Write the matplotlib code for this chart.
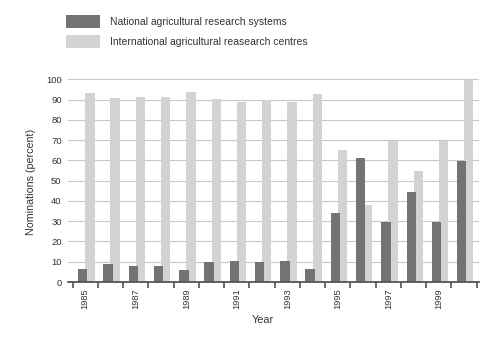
import matplotlib
matplotlib.use("Agg")
import matplotlib.pyplot as plt
import numpy as np
from matplotlib.patches import Patch

years = list(range(1985, 2001))
national = [6.6, 8.9, 7.8, 7.8, 6.1, 10.1, 10.4, 9.9, 10.4, 6.6, 33.8, 61.4, 29.7, 44.6, 29.7, 59.9]
international = [93.4, 90.9, 91.4, 91.4, 93.9, 90.1, 88.6, 89.6, 88.6, 92.7, 65.3, 37.8, 69.6, 54.6, 69.6, 99.7]
series_names = ["National agricultural research systems",
                "International agricultural reasearch centres"]
tick_years = [y if y % 2 == 1 else None for y in years]

dark = "#737373"
light = "#d3d3d3"
txt = "#333333"

plt.rcParams['font.family'] = ['Liberation Sans', 'DejaVu Sans']

fig = plt.figure(figsize=(5.0, 3.39), dpi=100)
ax = fig.add_axes([68.3/500, 57/339, (479-68.3)/500, (282-79.3)/339])

idx = np.arange(len(years))
w = 0.37
ax.bar(idx + 0.50, international, width=w, align='edge', color=light, zorder=2, linewidth=0)
ax.bar(idx + 0.22, national, width=w, align='edge', color=dark, zorder=3, linewidth=0)

ax.set_xlim(-0.17, len(years) + 0.09)
ax.set_ylim(0, 100)
ax.set_yticks(np.arange(0, 101, 10))
ax.yaxis.grid(True, color="#c8c8c8", linewidth=0.8, zorder=0)
ax.set_axisbelow(True)

for s in ['top', 'right', 'left']:
    ax.spines[s].set_visible(False)
ax.spines['bottom'].set_color("#555555")
ax.spines['bottom'].set_linewidth(1.3)
ax.spines['bottom'].set_zorder(4)

ax.set_xticks(np.arange(0, len(years) + 1))
ax.set_xticklabels([])
ax.tick_params(axis='x', which='major', length=4, width=1.1, color="#444444", direction='out')
ax.set_xticks(idx + 0.5, minor=True)
ax.set_xticklabels([str(y) if y else "" for y in tick_years], minor=True, rotation=90,
                   fontsize=6.7, color=txt)
ax.tick_params(axis='x', which='minor', length=0, pad=4.3)
ax.tick_params(axis='y', length=0, pad=4.8, labelsize=6.8, labelcolor=txt)

ax.set_xlabel("Year", fontsize=7.8, color=txt)
ax.xaxis.set_label_coords((263-68.3)/(479-68.3), -(320-282)/(282-79.3))
ax.xaxis.label.set_va('center')
ax.set_ylabel("Nominations (percent)", fontsize=7.7, color=txt)
ax.yaxis.set_label_coords(-(68.3-31)/(479-68.3), 0.495)
ax.yaxis.label.set_va('center')

fs = 7.5
fpx = fs * 100 / 72
handles = [Patch(facecolor=dark, edgecolor='none'), Patch(facecolor=light, edgecolor='none')]
fig.legend(handles, series_names, loc='upper left', bbox_to_anchor=(65.7/500, 1 - 15/339),
           frameon=False, fontsize=fs, handlelength=34.3/fpx, handleheight=16.5/fpx,
           handletextpad=10/fpx, labelspacing=6.7/fpx, borderpad=0, borderaxespad=0,
           labelcolor=txt)

fig.savefig("out.png", dpi=100)
